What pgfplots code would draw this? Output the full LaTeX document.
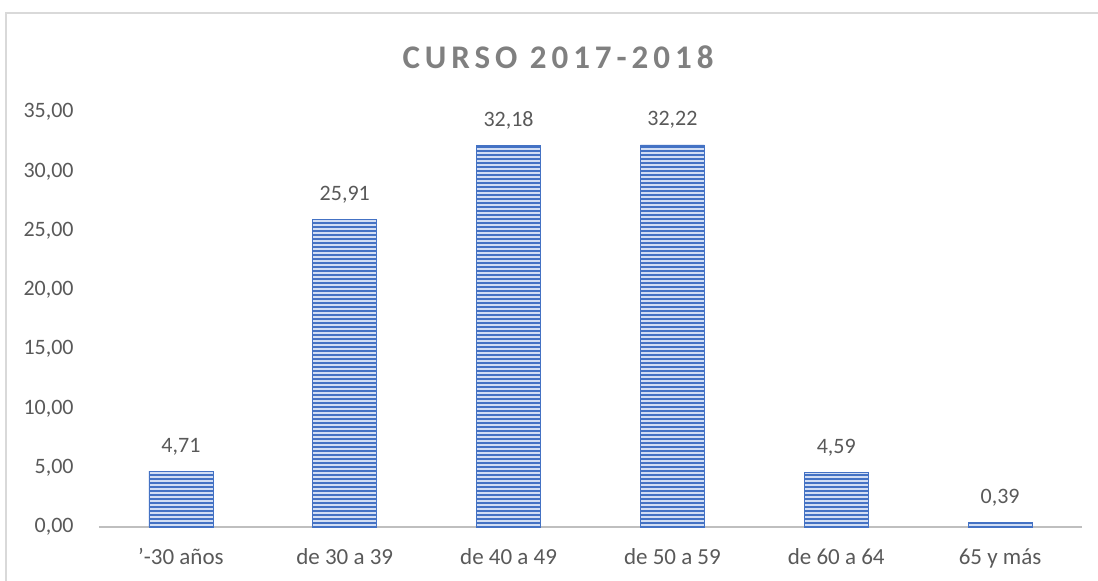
\documentclass[border=0pt]{standalone}
\usepackage{pgfplots}
\pgfplotsset{compat=1.18}
\usepackage{fontspec}
\setmainfont{Carlito}
\usetikzlibrary{patterns.meta}
\definecolor{barblue}{RGB}{68,114,196}
\definecolor{stripe}{RGB}{210,222,244}
\definecolor{txtgray}{RGB}{89,89,89}
\definecolor{titlegray}{RGB}{128,128,128}
\definecolor{axgray}{RGB}{191,191,191}
\definecolor{bordergray}{RGB}{217,217,217}
\begin{document}
\begin{tikzpicture}
\useasboundingbox (0,0) rectangle (549pt,290.5pt);
\draw[bordergray, line width=0.8pt] (3pt,-5pt) -- (3pt,284pt) -- (560pt,284pt);
\node[titlegray, font={\fontsize{16.5}{19}\selectfont\bfseries\addfontfeature{LetterSpace=15}}] at (279pt,262pt) {CURSO 2017-2018};
\begin{axis}[
  at={(49.5pt,27pt)}, anchor=south west,
  scale only axis, width=491.5pt, height=207.5pt,
  xmin=-0.5, xmax=5.5, ymin=0, ymax=35,
  axis x line*=bottom, axis y line*=left,
  y axis line style={draw=none},
  x axis line style={axgray, line width=1pt},
  major tick length=0,
  xtick={0,1,2,3,4,5},
  xticklabels={{'-30 años},{de 30 a 39},{de 40 a 49},{de 50 a 59},{de 60 a 64},{65 y más}},
  ytick={0,5,10,15,20,25,30,35},
  yticklabels={{0,00},{5,00},{10,00},{15,00},{20,00},{25,00},{30,00},{35,00}},
  yticklabel style={anchor=east, inner sep=0pt, xshift=-12.5pt, txtgray, font=\fontsize{11}{13}\selectfont},
  xticklabel style={anchor=base, inner sep=0pt, yshift=-19pt, txtgray, font=\fontsize{11.5}{13}\selectfont},
  ybar, bar width=32pt,
  nodes near coords,
  point meta=explicit symbolic,
  every node near coord/.append style={anchor=south, inner sep=0pt, yshift=8pt, txtgray, font=\fontsize{11}{13}\selectfont},
  clip=false,
]
\addplot[draw=barblue, line width=0.3pt, fill=barblue,
  postaction={pattern={Lines[angle=0,distance=2pt,line width=0.65pt]}, pattern color=stripe}]
  table[meta=lab] {
x y lab
0 4.71 4,71
1 25.91 25,91
2 32.18 32,18
3 32.22 32,22
4 4.59 4,59
5 0.39 0,39
};
\end{axis}
\end{tikzpicture}
\end{document}
